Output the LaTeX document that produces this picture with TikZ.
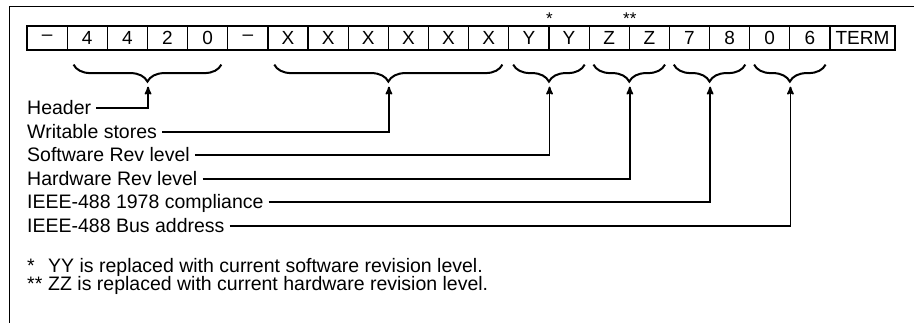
\documentclass[tikz,border=0pt]{standalone}
\usepackage{fontspec}
\setmainfont{Liberation Sans}
\usetikzlibrary{arrows,decorations.pathreplacing,calc}

\begin{document}
\begin{tikzpicture}[x=1pt,y=-1pt,
        cell/.style={draw,line width=1.2pt,minimum width=40.15pt,minimum height=24pt,inner sep=0pt,font=\fontsize{19}{19}\selectfont},
        lbl/.style={anchor=west,inner sep=0pt,text height=13.5pt,text depth=0pt,font=\fontsize{19.5}{19.5}\selectfont},
        curly/.style={decorate,decoration={brace,amplitude=17pt},line width=2pt},
        feed/.style={-stealth',line width=1.7pt}]
        \useasboundingbox (0,0) rectangle (914,322);
        \clip (0,0) rectangle (914,322);
        \draw [line width=1.5pt] (9.5,340) -- (9.5,6.5) -- (930,6.5);
        \foreach \t [count=\i] in {--,4,4,2,0,--,X,X,X,X,X,X,Y,Y,Z,Z,7,8,0,6}{
            \node [cell] (c\i) at ({27+40.15*(\i-0.5)}, 38) {\t};
        }
        \node [cell,minimum width=65pt] (term) at (862.5,38) {TERM};
        \node [above,inner sep=1pt,font=\fontsize{17}{17}\selectfont] (s1) at (c13.north east) {*};
        \node [above,inner sep=1pt,font=\fontsize{17}{17}\selectfont] (s2) at (c15.north east) {**};
        \draw [curly] ($(c5.south east)+(-7,14)$) -- ($(c2.south west)+(7,14)$);
        \draw [curly] ($(c12.south east)+(-7,14)$) -- ($(c7.south west)+(7,14)$);
        \foreach \a/\b in {14/13,16/15,18/17,20/19}{
            \draw [curly] ($(c\a.south east)+(-5,14)$) -- ($(c\b.south west)+(5,14)$);
        }
        \foreach \c [count=\i] in {3,9,13,15,17,19}{
            \coordinate (t\i) at ($(c\c.south east)+(0,36)$);
        }
        \node [lbl] (hdr) at (27,108) {Header};
        \node [lbl] (wst) at (27,132) {Writable stores};
        \node [lbl] (swr) at (27,155) {Software Rev level};
        \node [lbl] (hwr) at (27,179) {Hardware Rev level};
        \node [lbl] (cmp) at (27,202) {IEEE-488 1978 compliance};
        \node [lbl] (bus) at (27,226) {IEEE-488 Bus address};
        \foreach \n [count=\i] in {hdr,wst,swr,hwr,cmp,bus}{
            \draw [feed] ($(\n.east)+(5,0)$) -| (t\i);
        }
        \node [lbl] (fa) at (27,266) {*};
        \node [lbl] (fna) at (48,266) {YY is replaced with current software revision level.};
        \node [lbl] (fb) at (27,284) {**};
        \node [lbl] (fnb) at (48,284) {ZZ is replaced with current hardware revision level.};
    \end{tikzpicture}
\end{document}
